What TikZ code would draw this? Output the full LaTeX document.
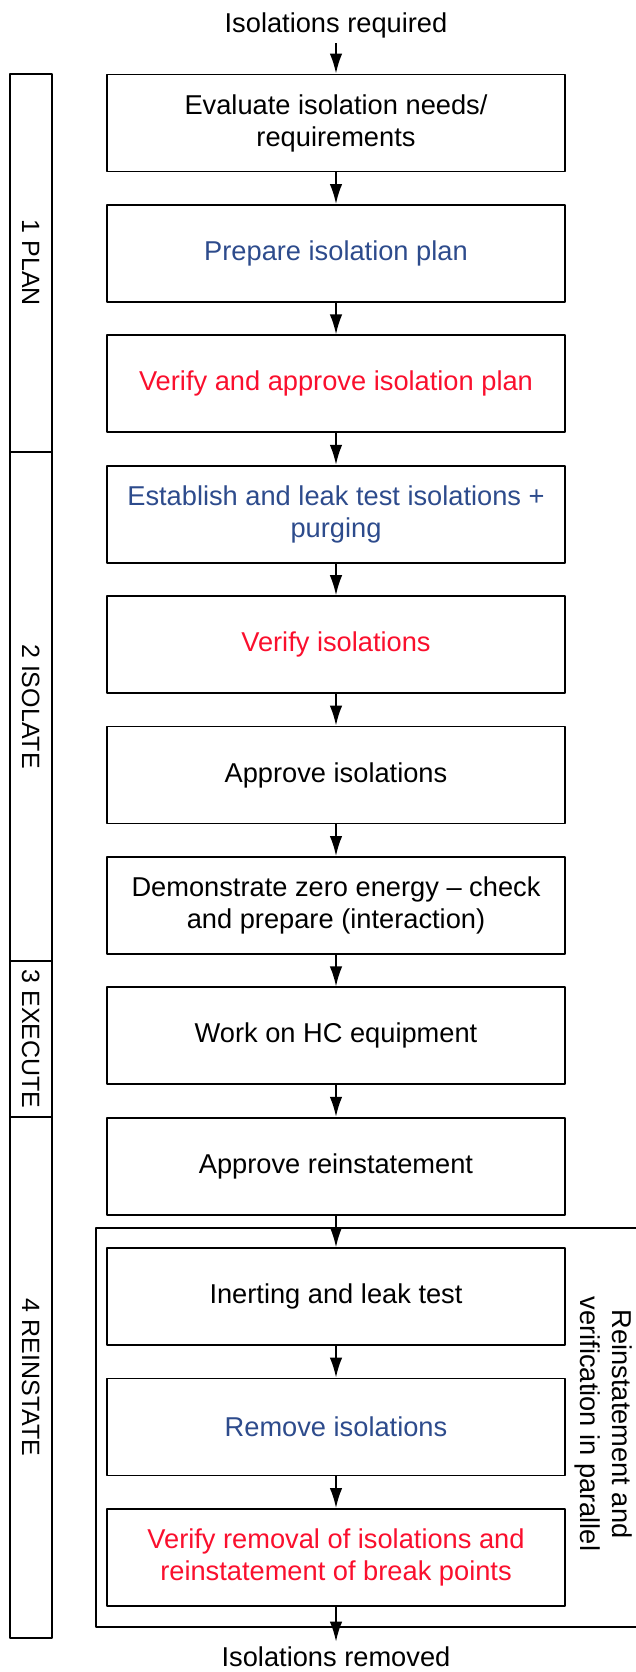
\documentclass[tikz,border=0pt]{standalone}
\usepackage{fontspec}
\setmainfont{Liberation Sans}
\usetikzlibrary{arrows.meta}
\definecolor{stepblue}{RGB}{45,75,140}
\definecolor{checkred}{RGB}{250,15,45}

\begin{document}
\begin{tikzpicture}[x=0.4pt,y=-0.4pt,>={Latex[length=8pt,width=5pt]},line join=bevel,
  every node/.style={font=\fontsize{10.9pt}{12.8pt}\selectfont},
  stepbox/.style={draw,minimum width=183.3pt,minimum height=38.8pt,inner sep=0pt,align=center},
  phasebox/.style={draw,rotate=-90,minimum height=16.8pt,inner sep=0pt,font=\fontsize{10pt}{12pt}\selectfont},
  endlabel/.style={inner sep=1.5pt,anchor=base},
  ]
  \useasboundingbox (0,0) rectangle (635,1672);
  \pgfsetlinewidth{0.7pt}
%%
  % Node: required
  \node[endlabel] (required) at (336,33) {Isolations required};
  % Node: evaluate
  \node[stepbox] (evaluate) at (336,123.0) {Evaluate isolation needs/\\requirements};
  % Node: prepare
  \node[stepbox,text=stepblue] (prepare) at (336,253.4) {Prepare isolation plan};
  % Node: verifyplan
  \node[stepbox,text=checkred] (verifyplan) at (336,383.8) {Verify and approve isolation plan};
  % Node: establish
  \node[stepbox,text=stepblue] (establish) at (336,514.2) {Establish and leak test isolations +\\purging};
  % Node: verifyiso
  \node[stepbox,text=checkred] (verifyiso) at (336,644.6) {Verify isolations};
  % Node: approveiso
  \node[stepbox] (approveiso) at (336,775.0) {Approve isolations};
  % Node: zeroenergy
  \node[stepbox] (zeroenergy) at (336,905.4) {Demonstrate zero energy -- check\\and prepare (interaction)};
  % Node: workhc
  \node[stepbox] (workhc) at (336,1035.8) {Work on HC equipment};
  % Node: approvere
  \node[stepbox] (approvere) at (336,1166.2) {Approve reinstatement};
  % Node: inerting
  \node[stepbox] (inerting) at (336,1296.6) {Inerting and leak test};
  % Node: removeiso
  \node[stepbox,text=stepblue] (removeiso) at (336,1427.0) {Remove isolations};
  % Node: verifyrem
  \node[stepbox,text=checkred] (verifyrem) at (336,1557.4) {Verify removal of isolations and\\reinstatement of break points};
  % Node: removed
  \node[endlabel] (removed) at (336,1666) {Isolations removed};
%
  % Phases
  \node[phasebox,minimum width=151.2pt] (plan) at (30.7,263) {1 PLAN};
  \node[phasebox,minimum width=203.6pt] (isolate) at (30.7,706.5) {2 ISOLATE};
  \node[phasebox,minimum width=62.4pt] (execute) at (30.7,1039) {3 EXECUTE};
  \node[phasebox,minimum width=208.4pt] (reinstate) at (30.7,1377.5) {4 REINSTATE};
%
  % Parallel frame
  \draw (645,1227.7) -| (95.7,1627) -- (645,1627);
  \node[rotate=-90,align=center,inner sep=0pt] (parallel) at (604,1424) {Reinstatement and\\verification in parallel};
%
  % Edge: required -> evaluate
  \draw [->] (required) -- (evaluate);
  % Edge: evaluate -> prepare
  \draw [->] (evaluate) -- (prepare);
  % Edge: prepare -> verifyplan
  \draw [->] (prepare) -- (verifyplan);
  % Edge: verifyplan -> establish
  \draw [->] (verifyplan) -- (establish);
  % Edge: establish -> verifyiso
  \draw [->] (establish) -- (verifyiso);
  % Edge: verifyiso -> approveiso
  \draw [->] (verifyiso) -- (approveiso);
  % Edge: approveiso -> zeroenergy
  \draw [->] (approveiso) -- (zeroenergy);
  % Edge: zeroenergy -> workhc
  \draw [->] (zeroenergy) -- (workhc);
  % Edge: workhc -> approvere
  \draw [->] (workhc) -- (approvere);
  % Edge: approvere -> inerting
  \draw [->] (approvere) -- (inerting);
  % Edge: inerting -> removeiso
  \draw [->] (inerting) -- (removeiso);
  % Edge: removeiso -> verifyrem
  \draw [->] (removeiso) -- (verifyrem);
  % Edge: verifyrem -> removed
  \draw [->] (verifyrem) -- (removed);
%
\end{tikzpicture}
\end{document}
